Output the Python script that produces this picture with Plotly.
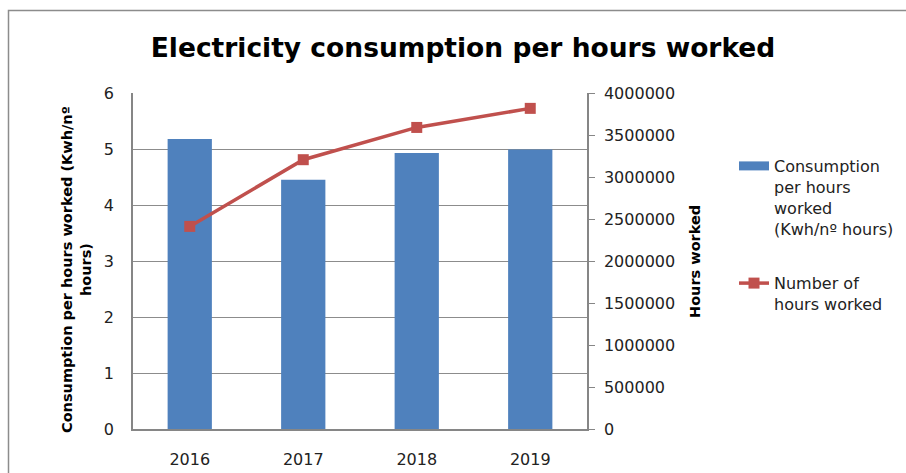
import plotly.graph_objects as go

years = ["2016", "2017", "2018", "2019"]
consumption = [5.18, 4.45, 4.93, 4.99]
hours_worked = [2412000, 3206000, 3590000, 3817000]

W, H = 906, 473
L, R, T, B = 133, 587, 93, 429
pw, ph = R - L, B - T

def px(x):
    return (x - L) / pw

def py(y):
    return (B - y) / ph

fig = go.Figure()
fig.add_trace(go.Bar(
    x=years, y=consumption, name="Consumption per hours worked (Kwh/nº hours)",
    marker=dict(color="#4F81BD", line=dict(width=0)), width=0.39,
    showlegend=False,
))
fig.add_trace(go.Scatter(
    x=[None], y=[None], mode="lines",
    name="Consumption<br>per hours<br>worked<br>(Kwh/nº hours)",
    line=dict(color="#4F81BD", width=9), legendgroup="a", hoverinfo="skip",
))
fig.add_trace(go.Scatter(
    x=years, y=hours_worked, yaxis="y2", name="Number of<br>hours worked",
    mode="lines+markers", line=dict(color="#C0504D", width=3.5),
    marker=dict(symbol="square", size=11, color="#C0504D"),
    legendgroup="b",
))

tickfont = dict(family="DejaVu Sans", size=16, color="#222222")

fig.update_layout(
    width=W, height=H,
    margin=dict(l=L, r=W - R, t=T, b=H - B, pad=0, autoexpand=False),
    paper_bgcolor="white", plot_bgcolor="white",
    showlegend=True,
    xaxis=dict(type="category", showline=True, linecolor="#868686", linewidth=1.5,
               mirror=False, ticks="", tickfont=tickfont, ticklabelstandoff=15,
               showgrid=False, automargin=False),
    yaxis=dict(range=[0, 6], dtick=1, showline=True, linecolor="#868686", linewidth=1.5,
               showgrid=True, gridcolor="#8C8C8C", gridwidth=1, zeroline=False,
               ticks="", tickfont=tickfont, ticklabelstandoff=14, automargin=False),
    yaxis2=dict(range=[0, 4000000], dtick=500000, overlaying="y", side="right",
                showline=True, linecolor="#868686", linewidth=1.5, showgrid=False,
                zeroline=False, ticks="outside", ticklen=6, tickcolor="#868686",
                tickformat="d", tickfont=tickfont, ticklabelstandoff=6,
                automargin=False),
    legend=dict(x=px(734), y=py(149), xanchor="left", yanchor="top",
                font=dict(family="DejaVu Sans", size=16, color="#222222"),
                valign="top", tracegroupgap=31, itemwidth=30,
                bgcolor="rgba(0,0,0,0)"),
    title=dict(text="<b>Electricity consumption per hours worked</b>",
               font=dict(family="DejaVu Sans", size=26.5, color="#000000"),
               x=px(463), xanchor="center", xref="paper",
               y=1 - 48 / H, yanchor="middle"),
    annotations=[
        dict(text="<b>Consumption per hours worked (Kwh/nº<br>hours)</b>",
             textangle=-90, x=px(76), y=py(270), xref="paper", yref="paper",
             xanchor="center", yanchor="middle", showarrow=False,
             font=dict(family="DejaVu Sans", size=14.5, color="#000000")),
        dict(text="<b>Hours worked</b>",
             textangle=-90, x=px(695), y=py(262), xref="paper", yref="paper",
             xanchor="center", yanchor="middle", showarrow=False,
             font=dict(family="DejaVu Sans", size=14.5, color="#000000")),
    ],
    shapes=[
        dict(type="rect", xref="paper", yref="paper",
             x0=px(8.5), y0=py(480), x1=px(910), y1=py(10.5),
             line=dict(color="#8C8C8C", width=1.5), fillcolor="rgba(0,0,0,0)",
             layer="below"),
    ],
)

fig.write_html("out.html", config={"displayModeBar": False},
               post_script="document.body.style.margin='0';document.body.style.overflow='hidden';")
